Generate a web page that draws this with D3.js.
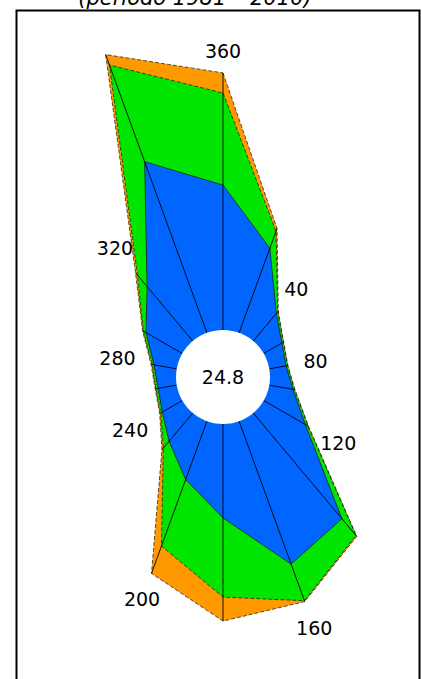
<!DOCTYPE html>
<html>
<head>
<meta charset="utf-8">
<script src="https://cdn.jsdelivr.net/npm/d3@7"></script>
<style>
  body { margin: 0; background: #fff; }
  text { font-family: "DejaVu Sans", Verdana, sans-serif; }
</style>
</head>
<body>
<div class="graph"></div>
<script>
// wind directions (degrees, clockwise from north)
var directions = [0, 20, 40, 60, 80, 100, 120, 140, 160, 180, 200, 220, 240, 260, 280, 300, 320, 340];
// frequency (%) per speed class
var classLow  = [4.83, 3.00, 1.20, 0.70, 0.57, 0.80, 1.60, 4.60, 5.07, 3.13, 2.07, 1.23, 0.77, 0.63, 0.77, 1.40, 2.37, 6.07];
var classMid  = [3.07, 0.60, 0.07, 0.05, 0.05, 0.05, 0.10, 0.73, 1.30, 2.64, 2.36, 0.30, 0.06, 0.07, 0.06, 0.10, 0.50, 3.43];
var classHigh = [0.67, 0.10, 0.03, 0.02, 0.01, 0.02, 0.03, 0.04, 0.03, 0.80, 0.97, 0.07, 0.04, 0.03, 0.04, 0.03, 0.10, 0.37];
var calm = "24.8";
var dirLabels = [0, 40, 80, 120, 160, 200, 240, 280, 320];
var title = "(período 1981 – 2010)";

window.onload = () => {
  var width = 422, height = 679;
  var cx = 223, cy = 377, hole = 47;

  var svg = d3.select(".graph").append("svg")
    .attr("width", width)
    .attr("height", height);

  // title, mostly cut off above the frame
  svg.append("text")
    .attr("x", 195)
    .attr("y", 5)
    .attr("text-anchor", "middle")
    .style("font-size", "21px")
    .style("font-style", "italic")
    .text(title);

  svg.append("rect")
    .attr("x", 16.5)
    .attr("y", 10.5)
    .attr("width", 403)
    .attr("height", 700)
    .attr("fill", "none")
    .attr("stroke", "#000")
    .attr("stroke-width", 2);

  var r = d3.scaleLinear().domain([0, 10]).range([hole, hole + 300]);

  var cum1 = classLow.slice();
  var cum2 = cum1.map(function (d, i) { return d + classMid[i]; });
  var cum3 = cum2.map(function (d, i) { return d + classHigh[i]; });

  var rad = function (deg) { return deg * Math.PI / 180; };

  var line = d3.lineRadial()
    .angle(function (d, i) { return rad(directions[i]); })
    .radius(function (d) { return r(d); })
    .curve(d3.curveLinearClosed);

  var g = svg.append("g").attr("transform", "translate(" + cx + "," + cy + ")");

  var layers = [
    { data: cum3, fill: "#ff9900", dash: "4,2" },
    { data: cum2, fill: "#00e600", dash: "4,2" },
    { data: cum1, fill: "#0066ff", dash: null }
  ];

  g.selectAll("path.layer")
    .data(layers)
    .enter().append("path")
    .attr("class", "layer")
    .attr("d", function (d) { return line(d.data); })
    .attr("fill", function (d) { return d.fill; })
    .attr("stroke", "#111")
    .attr("stroke-width", 0.7)
    .attr("stroke-dasharray", function (d) { return d.dash; });

  // spokes from the calm circle to the outer point
  g.selectAll("line.spoke")
    .data(directions)
    .enter().append("line")
    .attr("class", "spoke")
    .attr("x1", function (d) { return hole * Math.sin(rad(d)); })
    .attr("y1", function (d) { return -hole * Math.cos(rad(d)); })
    .attr("x2", function (d, i) { return r(cum3[i]) * Math.sin(rad(d)); })
    .attr("y2", function (d, i) { return -r(cum3[i]) * Math.cos(rad(d)); })
    .attr("stroke", "#000")
    .attr("stroke-width", 0.9);

  g.append("circle")
    .attr("r", hole)
    .attr("fill", "#fff");

  g.append("text")
    .attr("text-anchor", "middle")
    .attr("dy", "0.36em")
    .style("font-size", "19px")
    .text(calm);

  // direction labels just outside the rose
  var labels = g.selectAll("text.dir")
    .data(dirLabels)
    .enter().append("text")
    .attr("class", "dir")
    .attr("text-anchor", "middle")
    .attr("dy", "0.36em")
    .style("font-size", "19px")
    .text(function (d) { return d === 0 ? "360" : d; });

  labels.each(function (d) {
    var i = directions.indexOf(d);
    var w = this.getComputedTextLength();
    var a = rad(d);
    var ext = Math.abs(Math.sin(a)) * w / 2 + Math.abs(Math.cos(a)) * 7;
    var rr = r(cum3[i]) + 15 + ext;
    d3.select(this)
      .attr("x", rr * Math.sin(a))
      .attr("y", -rr * Math.cos(a));
  });
};
</script>
</body>
</html>
